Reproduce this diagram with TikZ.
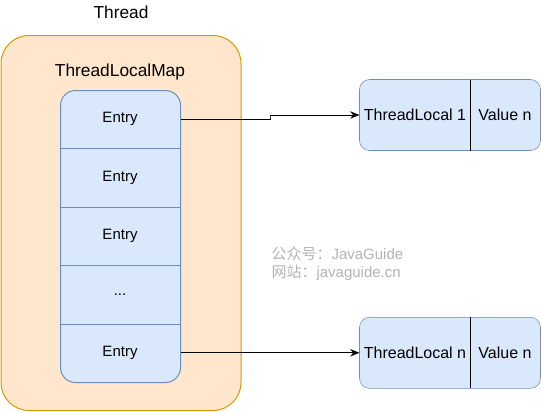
\documentclass[tikz,border=0pt]{standalone}
\usepackage{fontspec}
\setmainfont{Liberation Sans}
\newfontfamily\cjkfont{Noto Sans CJK SC}
\usetikzlibrary{arrows.meta,positioning,fit,backgrounds,calc}

\definecolor{thrfill}{HTML}{FFE6CC}
\definecolor{thrline}{HTML}{D79B00}
\definecolor{entfill}{HTML}{DAE8FC}
\definecolor{entline}{HTML}{6C8EBF}
\definecolor{wmark}{HTML}{B3B3B3}

\def\px{0.75pt}

\begin{document}
\begin{tikzpicture}[
  x=0.75pt, y=-0.75pt, line width=0.75pt,
  big/.style={font=\fontsize{13}{15}\selectfont, inner sep=0pt},
  entry/.style={minimum width=120*\px, minimum height=58.4*\px, inner sep=0pt,
                font=\fontsize{11.25}{13}\selectfont},
  cell/.style={minimum height=70*\px, inner sep=0pt,
               font=\fontsize{12}{14}\selectfont},
  frame/.style={draw=entline, fill=entfill, rounded corners=10*\px, inner sep=0pt},
  ar/.style={-{Stealth[length=7pt, width=5.5pt]}, line width=0.75pt}]

\useasboundingbox (0,0) rectangle (541,411);

% thread container
\node[draw=thrline, fill=thrfill, rounded corners=28*\px,
      minimum width=240*\px, minimum height=375*\px, inner sep=0pt,
      anchor=north west] (thr) at (0.5,35) {};
\node[big] (thrlbl) at (121,12) {Thread};
\node[big] (maplbl) at (120,72) {ThreadLocalMap};

% entry column, top-down
\node[draw=entline, fill=entfill, rounded corners=15*\px,
      minimum width=120*\px, minimum height=292*\px, inner sep=0pt,
      anchor=north west] (col) at (60,90) {};
\node[entry] (e1) at (120,119.2) {Entry};
\node[entry] (e2) at (120,177.6) {Entry};
\node[entry] (e3) at (120,236.0) {Entry};
\node[entry] (e4) at (120,294.4) {...};
\node[entry] (e5) at (120,352.8) {Entry};
\foreach \i in {1,...,4}
  \draw[entline] (e\i.south west) -- (e\i.south east);

% key / value pairs
\node[cell, minimum width=110*\px] (tl1) at (415,115) {ThreadLocal 1};
\node[cell, minimum width=70*\px]  (v1)  at (505,115) {Value n};
\node[cell, minimum width=110*\px] (tln) at (415,352.8) {ThreadLocal n};
\node[cell, minimum width=70*\px]  (vn)  at (505,352.8) {Value n};
\begin{scope}[on background layer]
\node[frame, fit=(tl1)(v1)] (kv1) {};
\node[frame, fit=(tln)(vn)] (kvn) {};
\end{scope}
\draw (tl1.north east) -- (tl1.south east);
\draw (tln.north east) -- (tln.south east);

\draw[ar] (e1.east) -| ($(e1.east)!0.5!(tl1.west)$) |- (tl1.west);
\draw[ar] (e5.east) -- (tln.west);

% watermark
\node[wmark, font=\fontsize{11.25}{13.5}\selectfont, align=left, anchor=west,
      inner sep=0pt] (wm) at (271,264)
  {{\cjkfont 公众号：}JavaGuide\\{\cjkfont 网站：}javaguide.cn};
\end{tikzpicture}
\end{document}
